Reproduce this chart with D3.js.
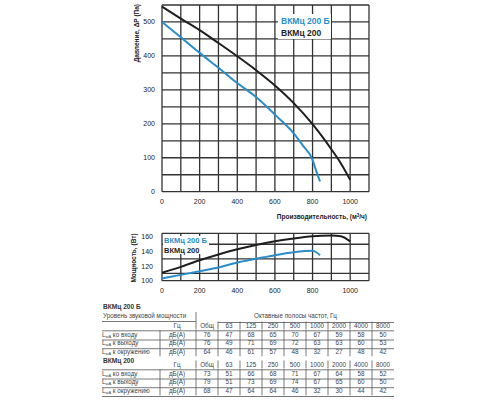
<!DOCTYPE html>
<html>
<head>
<meta charset="utf-8">
<script src="https://cdn.jsdelivr.net/npm/d3@7"></script>
<style>
  body { margin:0; background:#fff; }
  svg { font-family: "Liberation Sans", Arial, sans-serif; }
</style>
</head>
<body>
<div id="chart"></div>
<script>
// pressure curves (м3/ч -> Па)
var flowB     = [0,100,200,300,400,500,600,700,750,800,820,840];
var pressureB = [500,455,409,365,320,279,227,172,135,94,60,30];
var flow200     = [0,100,200,300,400,500,600,700,800,900,950,1000];
var pressure200 = [545,510,476,438,399,358,313,261,199,125,84,35];

// power curves (Вт)
var pFlowB  = [0,100,200,300,400,500,600,700,800,820,840];
var powerB  = [103,108,113,118,125,130,135,139,141,139,135];
var pFlow200 = [0,100,200,300,400,500,600,700,800,900,950,1000];
var power200 = [111,119,128,136,143,149,154,158,161,162,161,154];

// sound table
var bands = ["Общ","63","125","250","500","1000","2000","4000","8000"];
var rowNames = ["ко входу","к выходу","к окружению"];
var soundB = [[76,47,68,65,70,67,59,58,50],[76,49,71,69,72,63,63,60,53],[64,46,61,57,48,32,27,48,42]];
var sound200 = [[73,51,66,68,71,67,64,58,52],[79,51,73,69,74,67,65,60,50],[68,47,64,64,46,32,30,44,42]];

var blue = "#2a8dc8", black = "#1e1e1e", gridColor = "#333";

var svg = d3.select("#chart").append("svg").attr("width",500).attr("height",400);

function zip(a,b){ return a.map(function(v,i){ return [v,b[i]]; }); }

// grid lines from the scales
function drawGrid(g, xs, ys, xGrid, yGrid){
  var r = xs.range(), h = ys.range();
  g.append("g").selectAll("line").data(xGrid).enter().append("line")
    .attr("x1",d=>xs(d)).attr("x2",d=>xs(d)).attr("y1",h[0]).attr("y2",h[1])
    .style("stroke",gridColor).style("stroke-width","1.3px");
  g.append("g").selectAll("line").data(yGrid).enter().append("line")
    .attr("x1",r[0]).attr("x2",r[1]).attr("y1",d=>ys(d)).attr("y2",d=>ys(d))
    .style("stroke",gridColor).style("stroke-width","1.3px");
}

// ---------- pressure chart
var x = d3.scaleLinear().domain([0,1100]).range([162,369]);
var y = d3.scaleLinear().domain([0,550]).range([191.7,5]);
var g1 = svg.append("g");
drawGrid(g1, x, y, d3.range(0,1101,100), d3.range(0,551,50));

g1.selectAll(".yt").data(d3.range(0,501,100)).enter().append("text")
  .attr("x",155).attr("y",d=>y(d)+2.5).attr("text-anchor","end")
  .attr("font-size",7).attr("fill","#222").text(d=>d);
g1.selectAll(".xt").data(d3.range(0,1001,200)).enter().append("text")
  .attr("x",d=>x(d)).attr("y",204).attr("text-anchor","middle")
  .attr("font-size",7).attr("fill","#222").text(d=>d);

// legend
g1.append("rect").attr("x",278).attr("y",14).attr("width",53).attr("height",25).attr("fill","#fff");
g1.append("text").attr("x",281).attr("y",24).attr("font-size",8.5).attr("font-weight","bold").attr("fill",blue).text("ВКМц 200 Б");
g1.append("text").attr("x",281).attr("y",36).attr("font-size",8.5).attr("font-weight","bold").attr("fill",black).text("ВКМц 200");

var line1 = d3.line().x(d=>x(d[0])).y(d=>y(d[1])).curve(d3.curveMonotoneX);
g1.append("path").attr("d",line1(zip(flow200,pressure200))).attr("fill","none").attr("stroke",black).attr("stroke-width",2);
g1.append("path").attr("d",line1(zip(flowB,pressureB))).attr("fill","none").attr("stroke",blue).attr("stroke-width",2);

g1.append("text").attr("transform","translate(139,4) rotate(-90)").attr("text-anchor","end")
  .attr("font-size",6.5).attr("font-weight","bold").attr("fill","#222").text("Давление, ΔP (Па)");
var xl = g1.append("text").attr("x",367).attr("y",219).attr("text-anchor","end")
  .attr("font-size",6.5).attr("font-weight","bold").attr("fill","#222");
xl.append("tspan").text("Производительность, (м");
xl.append("tspan").attr("font-size",4.5).attr("dy",-2.5).text("3");
xl.append("tspan").attr("dy",2.5).text("/ч)");

// ---------- power chart
var y2 = d3.scaleLinear().domain([100,165]).range([280.7,233.3]);
var g2 = svg.append("g");
drawGrid(g2, x, y2, d3.range(0,1101,100), [100,110,130,150,165]);

g2.selectAll(".yt").data([100,120,140,160]).enter().append("text")
  .attr("x",153).attr("y",d=>y2(d)+2.5).attr("text-anchor","end")
  .attr("font-size",7).attr("fill","#222").text(d=>d);
g2.selectAll(".xt").data(d3.range(0,1001,200)).enter().append("text")
  .attr("x",d=>x(d)).attr("y",293).attr("text-anchor","middle")
  .attr("font-size",7).attr("fill","#222").text(d=>d);

g2.append("rect").attr("x",163).attr("y",236).attr("width",46).attr("height",18).attr("fill","#fff");
g2.append("text").attr("x",164).attr("y",243).attr("font-size",7.5).attr("font-weight","bold").attr("fill",blue).text("ВКМц 200 Б");
g2.append("text").attr("x",164).attr("y",253).attr("font-size",7.5).attr("font-weight","bold").attr("fill",black).text("ВКМц 200");

var line2 = d3.line().x(d=>x(d[0])).y(d=>y2(d[1])).curve(d3.curveMonotoneX);
g2.append("path").attr("d",line2(zip(pFlow200,power200))).attr("fill","none").attr("stroke",black).attr("stroke-width",2);
g2.append("path").attr("d",line2(zip(pFlowB,powerB))).attr("fill","none").attr("stroke",blue).attr("stroke-width",2);

g2.append("text").attr("transform","translate(136,258) rotate(-90)").attr("text-anchor","middle")
  .attr("font-size",6.5).attr("font-weight","bold").attr("fill","#222").text("Мощность, (Вт)");

// ---------- sound table
var col = d3.scaleBand().domain(bands).range([196,394]);
var t = svg.append("g").attr("font-size",6.3).attr("fill","#444");
var lineColor = "#555";

function hline(yy, xa, xb){
  t.append("path").attr("d","M"+xa+","+yy+"H"+xb).attr("stroke",lineColor).attr("stroke-width",0.8);
}
function vline(xx, ya, yb){
  t.append("path").attr("d","M"+xx+","+ya+"V"+yb).attr("stroke",lineColor).attr("stroke-width",0.8);
}

function block(top, title, rows, withHeader){
  // top = baseline of title
  var hz = withHeader ? top + 18.5 : top + 4;
  t.append("text").attr("x",103).attr("y",top).attr("font-size",6.6).attr("font-weight","bold").attr("fill","#333").text(title);
  if (withHeader) {
    t.append("text").attr("x",103).attr("y",top+9).text("Уровень звуковой мощности");
    t.append("text").attr("x",254).attr("y",top+9).text("Октавные полосы частот, Гц");
    hline(top+12.5,102,196);
    hline(top+13.5,218,394);
    vline(196,top+3,hz+2);
  } else {
    vline(196,hz-6,hz+2);
  }
  t.append("text").attr("x",177).attr("y",hz).attr("text-anchor","middle").text("Гц");
  bands.forEach(function(b){
    t.append("text").attr("x",col(b)+col.bandwidth()/2).attr("y",hz).attr("text-anchor","middle").text(b);
    if (b!=="Общ") vline(col(b),hz-6,hz+2);
  });
  hline(hz+3.3,102,394);
  rows.forEach(function(r,i){
    var by = hz + 9 + i*8.7;
    var lbl = t.append("text").attr("x",102).attr("y",by);
    lbl.append("tspan").text("L");
    lbl.append("tspan").attr("font-size",4).attr("dy",1.2).text("wA");
    lbl.append("tspan").attr("dy",-1.2).text(" " + rowNames[i]);
    t.append("text").attr("x",177).attr("y",by).attr("text-anchor","middle").text("дБ(А)");
    vline(160,by-6.3,by+2.4);
    r.forEach(function(v,j){
      t.append("text").attr("x",col(bands[j])+col.bandwidth()/2).attr("y",by).attr("text-anchor","middle").text(v);
      vline(col(bands[j]),by-6.3,by+2.4);
    });
    if (i<2) hline(by+3.5,102,394);
  });
}

block(309, "ВКМц 200 Б", soundB, true);
block(362.5, "ВКМц 200", sound200, false);
hline(396.5,102,394);
</script>
</body>
</html>
